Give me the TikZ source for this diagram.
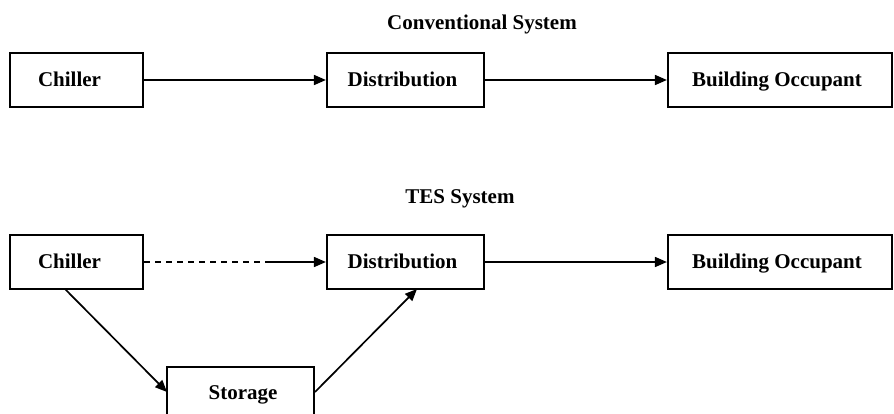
\documentclass[tikz,border=0pt]{standalone}
\usepackage{fontspec}
\setmainfont{Liberation Serif}
\usetikzlibrary{arrows.meta}
\begin{document}
\begin{tikzpicture}[x=1pt,y=-1pt,
  box/.style={draw, line width=2.2pt, minimum height=54pt, inner sep=0pt,
    text height=14pt, text depth=2pt,
    font=\fontsize{21}{24}\selectfont\bfseries},
  ttl/.style={inner sep=0pt, font=\fontsize{21}{24}\selectfont\bfseries},
  arr/.style={line width=1.7pt, -{Triangle[length=12pt,width=10pt]}},
  dsh/.style={line width=1.7pt, dash pattern=on 6pt off 5pt}]
\useasboundingbox (0,0) rectangle (894,413);
\clip (0,0) rectangle (894,413);
% titles
\node[ttl, anchor=base] (t1) at (482,29) {Conventional System};
\node[ttl, anchor=base] (t2) at (460,203) {TES System};
% conventional row
\node[box, minimum width=133pt] (c1) at (76.5,80) {\hspace*{-14pt}Chiller};
\node[box, minimum width=157pt] (d1) at (405.5,80) {\hspace*{-6pt}Distribution};
\node[box, minimum width=224pt] (b1) at (780,80) {\hspace*{-6pt}Building Occupant};
\draw[arr] (c1.east) -- (d1.west);
\draw[arr] (d1.east) -- (b1.west);
% TES row
\node[box, minimum width=133pt] (c2) at (76.5,262) {\hspace*{-14pt}Chiller};
\node[box, minimum width=157pt] (d2) at (405.5,262) {\hspace*{-6pt}Distribution};
\node[box, minimum width=224pt] (b2) at (780,262) {\hspace*{-6pt}Building Occupant};
\node[box, minimum width=147pt, minimum height=52pt] (st) at (240.5,393) {Storage\hspace*{-5pt}};
\coordinate (m) at (270,262);
\draw[dsh] (c2.east) -- (m);
\draw[arr] (m) -- (d2.west);
\draw[arr] (d2.east) -- (b2.west);
\coordinate (cs) at (65,289);
\coordinate (se) at (167,392);
\coordinate (ss) at (315,392);
\coordinate (de) at (417,289);
\draw[arr] (cs) -- (se);
\draw[arr] (ss) -- (de);
\end{tikzpicture}
\end{document}
